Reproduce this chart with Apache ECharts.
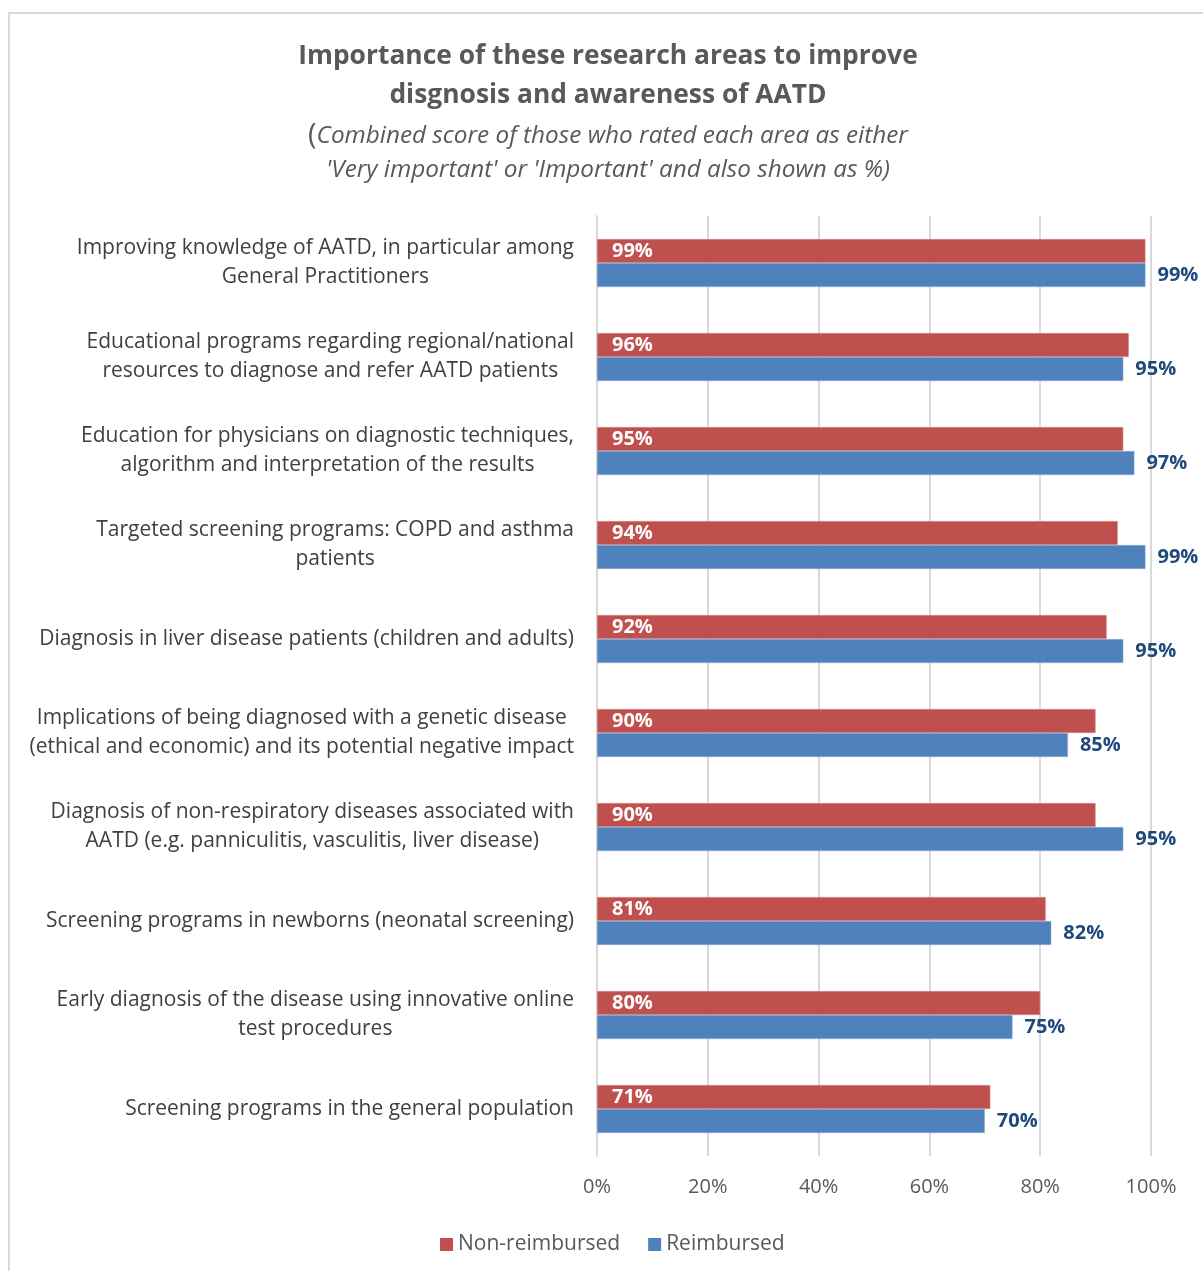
<!DOCTYPE html>
<html>
<head>
<meta charset="utf-8">
<script src="https://cdn.jsdelivr.net/npm/echarts@6/dist/echarts.min.js"></script>
<style>
  html, body { margin: 0; padding: 0; background: #fff; }
  #chart { width: 1203px; height: 1271px; }
</style>
</head>
<body>
<div id="chart"></div>
<script>
// research areas, top to bottom
const categories = [
  'Improving knowledge of AATD, in particular among\nGeneral Practitioners',
  'Educational programs regarding regional/national\nresources to diagnose and refer AATD patients',
  'Education for physicians on diagnostic techniques,\nalgorithm and interpretation of the results',
  'Targeted screening programs: COPD and asthma\npatients',
  'Diagnosis in liver disease patients (children and adults)',
  'Implications of being diagnosed with a genetic disease\n(ethical and economic) and its potential negative impact',
  'Diagnosis of non-respiratory diseases associated with\nAATD (e.g. panniculitis, vasculitis, liver disease)',
  'Screening programs in newborns (neonatal screening)',
  'Early diagnosis of the disease using innovative online\ntest procedures',
  'Screening programs in the general population'
];
const nonReimbursed = [99, 96, 95, 94, 92, 90, 90, 81, 80, 71];
const reimbursed = [99, 95, 97, 99, 95, 85, 95, 82, 75, 70];
const xTicks = [0, 20, 40, 60, 80, 100];

const FONT = 'Open Sans';
const chart = echarts.init(document.getElementById('chart'));

const option = {
  animation: false,
  backgroundColor: '#fff',
  textStyle: { fontFamily: FONT },
  graphic: [
    {
      type: 'rect',
      shape: { x: 9, y: 13, width: 1230, height: 1300 },
      style: { fill: 'none', stroke: '#d9d9d9', lineWidth: 2 },
      silent: true
    }
  ],
  title: [
    {
      text: 'Importance of these research areas to improve\ndisgnosis and awareness of AATD',
      left: 603,
      top: 32,
      textAlign: 'center',
      textStyle: { fontFamily: FONT, fontSize: 26.4, fontWeight: 'bold', color: '#595959', lineHeight: 39, align: 'center' }
    },
    {
      text: "{p|(}{i|Combined score of those who rated each area as either}\n{i|'Very important' or 'Important' and also shown as %)}",
      left: 603,
      top: 114,
      textAlign: 'center',
      textStyle: {
        align: 'center',
        fontWeight: 'normal',
        rich: {
          p: { fontFamily: FONT, fontSize: 29, fontWeight: 'normal', color: '#595959', lineHeight: 34 },
          i: { fontFamily: FONT, fontSize: 24.3, fontWeight: 'normal', fontStyle: 'italic', color: '#595959', lineHeight: 34 }
        }
      }
    }
  ],
  legend: {
    data: ['Non-reimbursed', 'Reimbursed'],
    left: 435,
    top: 1229,
    icon: 'rect',
    itemWidth: 13,
    itemHeight: 13,
    itemGap: 28,
    itemStyle: { borderWidth: 0 },
    textStyle: { fontFamily: FONT, fontSize: 21, color: '#595959' }
  },
  grid: { left: 597, top: 216, width: 554, height: 940, containLabel: false },
  xAxis: {
    type: 'value',
    min: xTicks[0],
    max: xTicks[xTicks.length - 1],
    interval: 20,
    axisLine: { show: false },
    axisTick: { show: false },
    axisLabel: {
      formatter: v => v + '%',
      fontFamily: FONT,
      fontSize: 20,
      color: '#595959',
      margin: 21
    },
    splitLine: { lineStyle: { color: '#d9d9d9', width: 2 } }
  },
  yAxis: {
    type: 'category',
    data: categories,
    inverse: true,
    axisLine: { show: true, lineStyle: { color: '#d9d9d9', width: 2 } },
    axisTick: { show: false },
    axisLabel: {
      // centre every line inside the right-aligned block
      formatter: v => v.split('\n').map(s => '{c|' + s + '}').join('\n'),
      align: 'right',
      margin: 23,
      rich: {
        c: { fontFamily: FONT, fontSize: 21, color: '#404040', lineHeight: 29, align: 'center' }
      }
    }
  },
  series: [
    {
      name: 'Non-reimbursed',
      type: 'bar',
      data: nonReimbursed,
      barWidth: 24,
      barGap: '0%',
      itemStyle: { color: '#c0504d', borderColor: '#d99694', borderWidth: 0.5 },
      label: {
        show: true,
        position: 'insideLeft',
        distance: 15,
        formatter: p => p.value + '%',
        fontFamily: FONT,
        fontSize: 20,
        fontWeight: 'bold',
        color: '#fff'
      }
    },
    {
      name: 'Reimbursed',
      type: 'bar',
      data: reimbursed,
      barWidth: 24,
      barGap: '0%',
      itemStyle: { color: '#4f81bd', borderColor: '#95b3d7', borderWidth: 0.5 },
      label: {
        show: true,
        position: 'right',
        distance: 12,
        formatter: p => p.value + '%',
        fontFamily: FONT,
        fontSize: 20,
        fontWeight: 'bold',
        color: '#1f497d'
      }
    }
  ]
};

chart.setOption(option);
window.addEventListener('resize', () => chart.resize());
</script>
</body>
</html>
